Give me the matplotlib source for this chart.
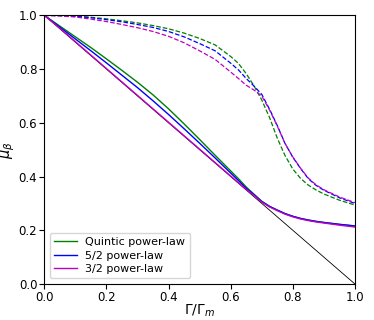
import matplotlib
matplotlib.use('Agg')
import matplotlib.pyplot as plt
import numpy as np

# Gamma / Gamma_m sample points
gamma = [0.0, 0.05, 0.1, 0.15, 0.2, 0.25, 0.3, 0.35, 0.4, 0.45, 0.5, 0.55, 0.6,
         0.625, 0.65, 0.675, 0.7, 0.725, 0.75, 0.775, 0.8, 0.825, 0.85, 0.875, 0.9,
         0.95, 1.0]

# solid curves
quintic = [1.0, 0.960, 0.920, 0.880, 0.838, 0.795, 0.751, 0.704, 0.652, 0.596, 0.538,
           0.479, 0.421, 0.392, 0.361, 0.334, 0.308, 0.289, 0.275, 0.262, 0.252, 0.244,
           0.238, 0.233, 0.229, 0.222, 0.216]
p52 = [1.0, 0.956, 0.912, 0.868, 0.823, 0.777, 0.731, 0.682, 0.631, 0.578, 0.524,
       0.469, 0.413, 0.385, 0.356, 0.333, 0.307, 0.289, 0.275, 0.262, 0.252, 0.244,
       0.238, 0.233, 0.229, 0.222, 0.216]
p32 = [1.0, 0.952, 0.902, 0.852, 0.802, 0.752, 0.702, 0.652, 0.602, 0.552, 0.502,
       0.452, 0.402, 0.377, 0.352, 0.330, 0.305, 0.287, 0.273, 0.260, 0.250, 0.242,
       0.236, 0.231, 0.227, 0.219, 0.212]

# dashed curves
quintic_d = [1.0, 0.9995, 0.998, 0.993, 0.987, 0.980, 0.972, 0.962, 0.950, 0.934, 0.914,
             0.890, 0.847, 0.821, 0.783, 0.738, 0.685, 0.620, 0.543, 0.478, 0.428, 0.393,
             0.368, 0.350, 0.335, 0.312, 0.294]
p52_d = [1.0, 0.999, 0.996, 0.991, 0.984, 0.976, 0.966, 0.955, 0.940, 0.920, 0.895,
         0.868, 0.822, 0.797, 0.765, 0.737, 0.706, 0.651, 0.590, 0.523, 0.472, 0.430,
         0.392, 0.367, 0.349, 0.321, 0.300]
p32_d = [1.0, 0.998, 0.994, 0.986, 0.977, 0.966, 0.954, 0.940, 0.922, 0.898, 0.868,
         0.836, 0.789, 0.765, 0.740, 0.722, 0.700, 0.648, 0.588, 0.523, 0.473, 0.431,
         0.394, 0.369, 0.351, 0.324, 0.303]

fig = plt.figure(figsize=(3.74, 3.20), dpi=100)
ax = fig.add_axes([0.1185, 0.1125, 0.8305, 0.8395])

ax.plot([0, 1], [1, 0], color='k', lw=0.6)
ax.plot(gamma, quintic, color='g', lw=1.0, label='Quintic power-law')
ax.plot(gamma, p52, color='b', lw=1.0, label='5/2 power-law')
ax.plot(gamma, p32, color='m', lw=1.0, label='3/2 power-law')
ax.plot(gamma, quintic_d, color='g', lw=0.9, ls='--')
ax.plot(gamma, p52_d, color='b', lw=0.9, ls='--')
ax.plot(gamma, p32_d, color='m', lw=0.9, ls='--')

ax.set_xlim(0, 1)
ax.set_ylim(0, 1)
ax.set_xticks(np.arange(0, 1.01, 0.2))
ax.set_yticks(np.arange(0, 1.01, 0.2))
ax.tick_params(labelsize=8.5, length=3.5, pad=1.5)
ax.set_xlabel(r'$\Gamma/\Gamma_m$', fontsize=10, labelpad=-1)
ax.set_ylabel(r'$\mu_\beta$', fontsize=10.5, labelpad=1)
ax.legend(loc='lower left', fontsize=8, handlelength=2.0, labelspacing=0.3,
          borderpad=0.4)

plt.savefig('out.png', dpi=100)
